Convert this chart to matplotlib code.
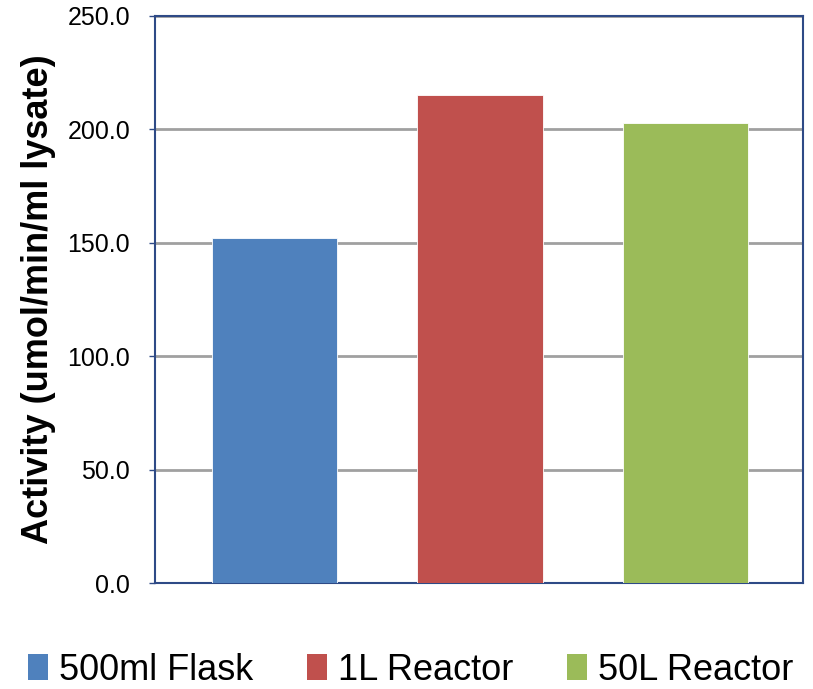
import matplotlib.pyplot as plt
from matplotlib.patches import Patch
from matplotlib.ticker import FormatStrFormatter

# data
categories = ["500ml Flask", "1L Reactor", "50L Reactor"]
activity = [152.1, 215.3, 203.0]
colors = ["#4F81BD", "#C0504D", "#9BBB59"]
yticks = [0, 50, 100, 150, 200, 250]

font = ["Liberation Sans", "DejaVu Sans"]
frame_color = "#2E4A86"

fig = plt.figure(figsize=(8.13, 6.89), dpi=100)
ax = fig.add_axes([0.1907, 0.1538, 0.797, 0.823])

x = list(range(len(categories)))
ax.bar(x, activity, width=0.61, color=colors, edgecolor="white", linewidth=0.6, zorder=3)

ax.set_xlim(-0.58, 2.57)
ax.set_ylim(0, 250)
ax.set_yticks(yticks)
ax.yaxis.set_major_formatter(FormatStrFormatter("%.1f"))
ax.set_xticks([])
ax.grid(axis="y", color="#A0A0A0", linewidth=2, zorder=0)

for s in ax.spines.values():
    s.set_color(frame_color)
    s.set_linewidth(1.5)

ax.tick_params(axis="y", length=4, width=1, color=frame_color, pad=14)
for lab in ax.get_yticklabels():
    lab.set_family(font)
    lab.set_fontsize(18)

ax.set_ylabel("Activity (umol/min/ml lysate)", fontsize=26, fontweight="bold",
              family=font, labelpad=8)

handles = [Patch(facecolor=c, edgecolor="none") for c in colors]
fig.legend(handles, categories, loc="lower center", ncol=3, frameon=False,
           bbox_to_anchor=(0.505, -0.045), handlelength=0.55, handleheight=0.75,
           handletextpad=0.3, columnspacing=1.5,
           prop={"family": font, "size": 26})

fig.savefig("out.png", dpi=100)
